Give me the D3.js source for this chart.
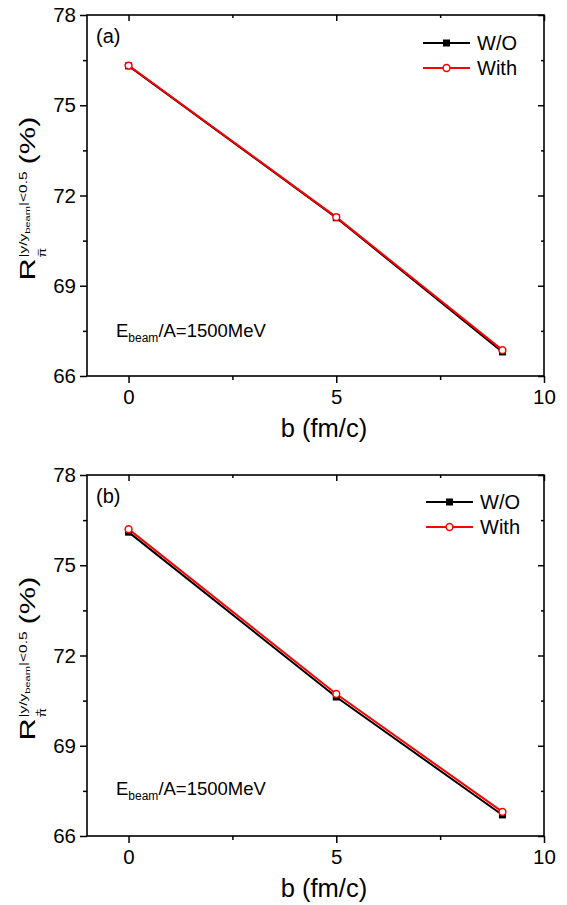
<!DOCTYPE html>
<html><head><meta charset="utf-8">
<script src="https://cdn.jsdelivr.net/npm/d3@7"></script>
<style>body{margin:0;background:#fff}svg{display:block;font-family:"Liberation Sans",Arial,sans-serif}</style>
</head><body>
<script>
const bValues = [0, 5, 9];
const panelLabels = ["(a)", "(b)"];
const pionCharge = ["\u2212", "+"];
const seriesNames = ["W/O", "With"];
const woA = [76.31, 71.26, 66.80];
const withA = [76.32, 71.28, 66.86];
const woB = [76.10, 70.62, 66.70];
const withB = [76.20, 70.72, 66.80];
const xMajor = [0, 5, 10];
const xMinor = [2.5, 7.5];
const yMajor = [66, 69, 72, 75, 78];
const yMinor = [67.5, 70.5, 73.5, 76.5];

const W = 567, H = 905;
const svg = d3.select("body").append("svg").attr("width", W).attr("height", H);

const panels = [
  {top: 15, label: panelLabels[0], charge: pionCharge[0], wo: woA, wi: withA},
  {top: 475, label: panelLabels[1], charge: pionCharge[1], wo: woB, wi: withB}
];
const L = 87, R = 544, PH = 361;

panels.forEach((p, pi) => {
  const x = d3.scaleLinear().domain([-1, 10]).range([L, R]);
  const y = d3.scaleLinear().domain([66, 78]).range([p.top + PH, p.top]);
  const g = svg.append("g");

  g.append("rect").attr("x", L).attr("y", p.top).attr("width", R - L).attr("height", PH)
    .attr("fill", "none").attr("stroke", "#000").attr("stroke-width", 1.6);

  g.append("g").attr("transform", `translate(0,${p.top + PH})`)
    .call(d3.axisBottom(x).tickValues(xMajor).tickSize(7).tickPadding(6).tickFormat(d3.format("d")));
  g.append("g").attr("transform", `translate(0,${p.top + PH})`)
    .call(d3.axisBottom(x).tickValues(xMinor).tickSize(4).tickFormat(""));
  g.append("g").attr("transform", `translate(0,${p.top})`)
    .call(d3.axisBottom(x).tickValues(xMajor).tickSize(6).tickFormat(""));
  g.append("g").attr("transform", `translate(0,${p.top})`)
    .call(d3.axisBottom(x).tickValues(xMinor).tickSize(3).tickFormat(""));
  g.append("g").attr("transform", `translate(${L},0)`)
    .call(d3.axisLeft(y).tickValues(yMajor).tickSize(7).tickPadding(4).tickFormat(d3.format("d")));
  g.append("g").attr("transform", `translate(${L},0)`)
    .call(d3.axisLeft(y).tickValues(yMinor).tickSize(4).tickFormat(""));
  g.append("g").attr("transform", `translate(${R},0)`)
    .call(d3.axisLeft(y).tickValues(yMajor).tickSize(6).tickFormat(""));
  g.append("g").attr("transform", `translate(${R},0)`)
    .call(d3.axisLeft(y).tickValues(yMinor).tickSize(3).tickFormat(""));

  g.selectAll(".domain").remove();
  g.selectAll(".tick line").attr("stroke", "#000").attr("stroke-width", 1.5);
  g.selectAll(".tick text").attr("fill", "#000").attr("font-size", 20.5)
    .attr("font-family", "Liberation Sans, Arial, sans-serif");

  const line = d3.line().x((d, i) => x(bValues[i])).y(d => y(d));
  g.append("path").datum(p.wo).attr("d", line).attr("fill", "none").attr("stroke", "#000").attr("stroke-width", 2);
  g.append("path").datum(p.wi).attr("d", line).attr("fill", "none").attr("stroke", "#ff0000").attr("stroke-width", 2);
  g.selectAll(".sq").data(p.wo).enter().append("rect")
    .attr("x", (d, i) => x(bValues[i]) - 3.5).attr("y", d => y(d) - 3.5)
    .attr("width", 7).attr("height", 7).attr("fill", "#000");
  g.selectAll(".ci").data(p.wi).enter().append("circle")
    .attr("cx", (d, i) => x(bValues[i])).attr("cy", d => y(d)).attr("r", 3.4)
    .attr("fill", "#fff").attr("stroke", "#ff0000").attr("stroke-width", 1.5);

  const lx0 = pi === 0 ? 423 : 426, lx1 = lx0 + 47, ly = pi === 0 ? 43 : 502;
  [0, 1].forEach(k => {
    const yy = ly + k * 25;
    const col = k === 0 ? "#000" : "#ff0000";
    g.append("line").attr("x1", lx0).attr("x2", lx1).attr("y1", yy).attr("y2", yy)
      .attr("stroke", col).attr("stroke-width", 2);
    const mx = (lx0 + lx1) / 2;
    if (k === 0) g.append("rect").attr("x", mx - 3.5).attr("y", yy - 3.5).attr("width", 7).attr("height", 7).attr("fill", "#000");
    else g.append("circle").attr("cx", mx).attr("cy", yy).attr("r", 3.4).attr("fill", "#fff").attr("stroke", "#ff0000").attr("stroke-width", 1.5);
    g.append("text").attr("x", lx1 + 7).attr("y", yy + 7).attr("font-size", 20).text(seriesNames[k]);
  });

  g.append("text").attr("x", 96).attr("y", p.top + 28).attr("font-size", 20).text(p.label);

  const et = g.append("text").attr("x", 116).attr("y", p.top + (pi === 0 ? 322 : 320)).attr("font-size", 18.5);
  et.append("tspan").text("E");
  et.append("tspan").attr("font-size", 12).attr("dy", 5).text("beam");
  et.append("tspan").attr("dy", -5).text("/A=1500MeV");

  g.append("text").attr("x", 324).attr("y", p.top + 422).attr("text-anchor", "middle")
    .attr("font-size", 25.5).text("b (fm/c)");

  // y title (rotated, stretched along its length)
  const yc = p.top + PH / 2 + 3;
  const tg = g.append("g");
  const inner = tg.append("g");
  const tR = inner.append("text").attr("x", 0).attr("y", 0).attr("font-size", 22).text("R");
  const rw = tR.node().getComputedTextLength();
  inner.append("text").attr("x", rw + 0.5).attr("y", 11).attr("font-size", 10).text("\u03c0");
  inner.append("text").attr("x", rw + 1.5).attr("y", 6).attr("font-size", 9).text(p.charge);
  const sup = inner.append("text").attr("x", rw + 0.5).attr("y", -8).attr("font-size", 11);
  sup.append("tspan").text("|y/y");
  sup.append("tspan").attr("font-size", 8).attr("dy", 3).text("beam");
  sup.append("tspan").attr("dy", -3).text("|<0.5");
  const sw = sup.node().getComputedTextLength();
  inner.append("text").attr("x", rw + 0.5 + sw + 5).attr("y", 0).attr("font-size", 22).text("(%)");
  const total = inner.node().getBBox().width * 1.4;
  tg.attr("transform", `translate(35,${yc + total / 2}) rotate(-90) scale(1.4,1)`);
});
</script>
</body></html>
